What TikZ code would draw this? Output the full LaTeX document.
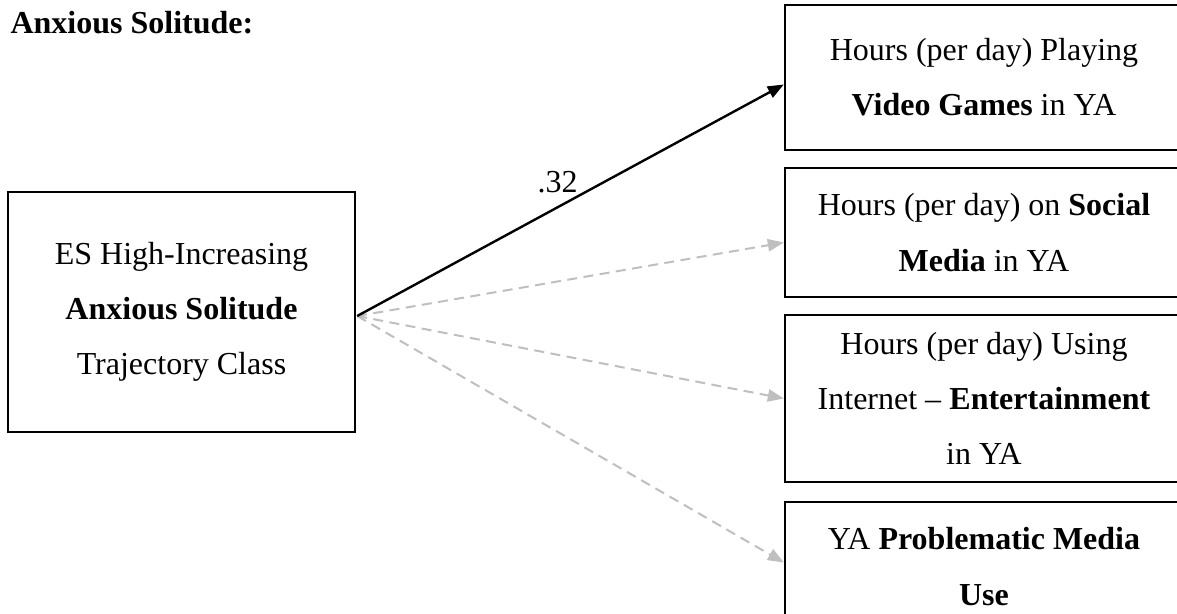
\documentclass[tikz,border=0pt]{standalone}
\usepackage{fontspec}
\setmainfont{Liberation Serif}
\usetikzlibrary{arrows.meta,calc}

\begin{document}
\begin{tikzpicture}[x=0.375pt, y=-0.375pt, >=Triangle,
  varbox/.style={draw, line width=0.9pt, align=center, inner sep=0pt,
    font=\fontsize{12pt}{20.7pt}\selectfont},
  sigpath/.style={-{Triangle[length=6pt,width=4.6pt]}, line width=0.9pt},
  nspath/.style={-{Triangle[length=6pt,width=4.6pt]}, draw=gray!50,
    line width=0.75pt, dash pattern=on 3.75pt off 2.4pt}]

% ----------------------------
% PARAMETERS
% ----------------------------
\def\wL{347}      % width of predictor box
\def\wR{398}      % width of outcome boxes
\def\xR{984}      % centre x of outcome boxes

\useasboundingbox (0,0) rectangle (1177,613);

% ----------------------------
% TITLE
% ----------------------------
\node[anchor=base west, inner sep=0pt, font=\fontsize{12pt}{14pt}\selectfont\bfseries]
  (title) at (10,33) {Anxious Solitude:};

% ----------------------------
% PREDICTOR
% ----------------------------
\node[varbox, minimum width=\wL*0.375pt, minimum height=240*0.375pt]
  (es) at (181.5,312)
  {ES High-Increasing\\\textbf{Anxious Solitude}\\Trajectory Class};

% ----------------------------
% OUTCOMES (right column, cut by the page edge)
% ----------------------------
\node[varbox, minimum width=\wR*0.375pt, minimum height=145*0.375pt]
  (games) at (\xR,77.5)
  {Hours (per day) Playing\\\textbf{Video Games} in YA};
\node[varbox, minimum width=\wR*0.375pt, minimum height=129*0.375pt]
  (social) at (\xR,232.5)
  {Hours (per day) on \textbf{Social}\\\textbf{Media} in YA};
\node[varbox, minimum width=\wR*0.375pt, minimum height=167*0.375pt]
  (internet) at (\xR,398.5)
  {Hours (per day) Using\\Internet -- \textbf{Entertainment}\\in YA};
\node[varbox, minimum width=\wR*0.375pt, minimum height=129*0.375pt]
  (pmu) at (\xR,566.5)
  {YA \textbf{Problematic Media}\\\textbf{Use}};

% ----------------------------
% PATHS
% ----------------------------
\coordinate (src) at ($(es.east)+(1,4)$);

% non-significant paths (dashed, grey)
\draw[nspath] (src) -- ($(social.west)+(0,10)$);
\draw[nspath] (src) -- (internet.west);
\draw[nspath] (src) -- ($(pmu.west)+(0,-4)$);

% significant path
\draw[sigpath] (src) -- node[pos=0.47, above=5pt, inner sep=0pt,
    font=\fontsize{12pt}{14pt}\selectfont] (b1) {.32}
  ($(games.west)+(0,7)$);

\end{tikzpicture}
\end{document}
